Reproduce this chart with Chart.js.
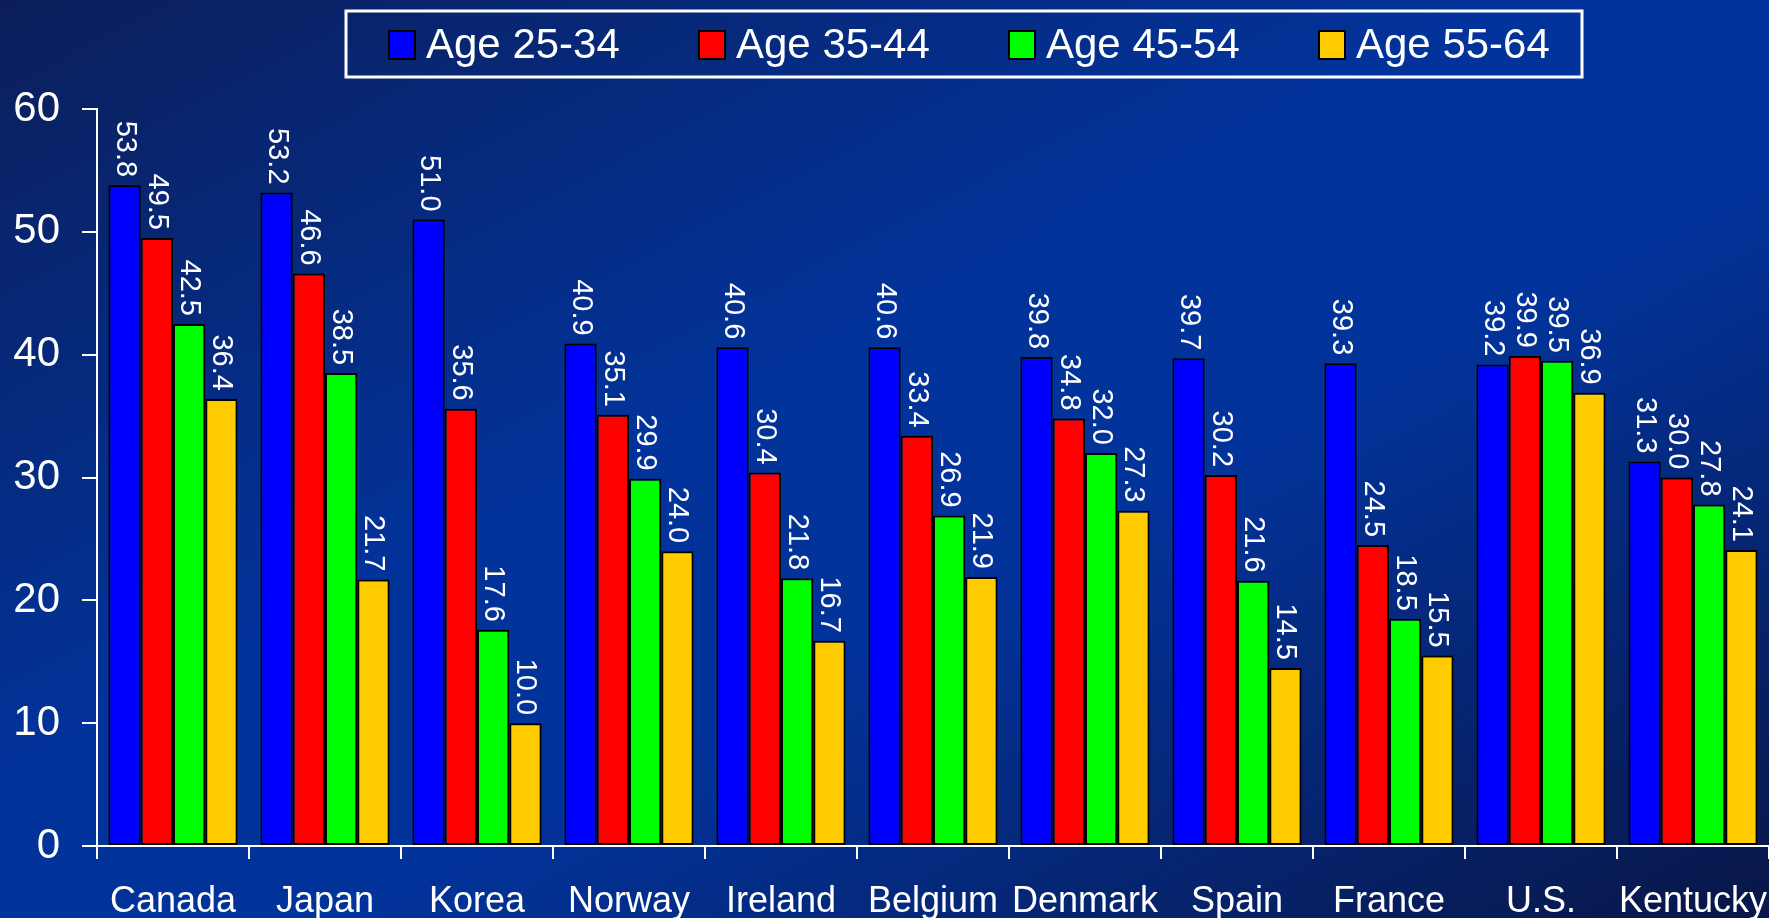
<!DOCTYPE html>
<html>
<head>
<meta charset="utf-8">
<title>Age groups by country</title>
<script src="https://cdn.jsdelivr.net/npm/chart.js@4/dist/chart.umd.min.js"></script>
<style>
  html, body { margin: 0; padding: 0; overflow: hidden; background: #003399; }
  canvas { display: block; }
</style>
</head>
<body>
<canvas id="chart" width="1769" height="918"></canvas>
<script>
'use strict';

/* ── 데이터 ─────────────────────────────── */
const countries = ['Canada', 'Japan', 'Korea', 'Norway', 'Ireland', 'Belgium',
                   'Denmark', 'Spain', 'France', 'U.S.', 'Kentucky'];
const seriesNames = ['Age 25-34', 'Age 35-44', 'Age 45-54', 'Age 55-64'];
const age2534 = [53.8, 53.2, 51.0, 40.9, 40.6, 40.6, 39.8, 39.7, 39.3, 39.2, 31.3];
const age3544 = [49.5, 46.6, 35.6, 35.1, 30.4, 33.4, 34.8, 30.2, 24.5, 39.9, 30.0];
const age4554 = [42.5, 38.5, 17.6, 29.9, 21.8, 26.9, 32.0, 21.6, 18.5, 39.5, 27.8];
const age5564 = [36.4, 21.7, 10.0, 24.0, 16.7, 21.9, 27.3, 14.5, 15.5, 36.9, 24.1];
const yTicks  = [0, 10, 20, 30, 40, 50, 60];

const colors = ['#0000ff', '#ff0000', '#00ff00', '#ffcc00'];
const FONT = '"Liberation Sans", Arial, Helvetica, sans-serif';

/* ── 배경 그라데이션 ───────────────────────── */
const bgPlugin = {
  id: 'bg',
  beforeDraw(chart) {
    const { ctx, width: W, height: H } = chart;
    // 방향 (H, W): 우상단·좌하단이 같은 밝기가 되도록
    const k = (W * H) / (W * W + H * H);
    const cx = W / 2, cy = H / 2;
    const g = ctx.createLinearGradient(cx - k * H, cy - k * W, cx + k * H, cy + k * W);
    g.addColorStop(0, '#0b1e5a');
    g.addColorStop(0.42, '#02339a');
    g.addColorStop(0.6, '#02339a');
    g.addColorStop(1, '#091647');
    ctx.save();
    ctx.fillStyle = g;
    ctx.fillRect(0, 0, W, H);
    ctx.restore();
  },
};

/* ── 세로 값 라벨 ──────────────────────────── */
const valueLabels = {
  id: 'valueLabels',
  afterDatasetsDraw(chart) {
    const { ctx } = chart;
    ctx.save();
    ctx.fillStyle = '#ffffff';
    ctx.font = `29px ${FONT}`;
    ctx.textAlign = 'right';
    ctx.textBaseline = 'middle';
    chart.data.datasets.forEach((ds, i) => {
      chart.getDatasetMeta(i).data.forEach((bar, j) => {
        ctx.save();
        ctx.translate(bar.x, bar.y - 8);
        ctx.rotate(Math.PI / 2);
        ctx.fillText(ds.data[j].toFixed(1), 0, 0);
        ctx.restore();
      });
    });
    ctx.restore();
  },
};

/* ── 범례 (테두리 박스) ───────────────────── */
const boxLegend = {
  id: 'boxLegend',
  afterDraw(chart) {
    const { ctx } = chart;
    const left = 346, top = 11, w = 1236, h = 66;
    ctx.save();
    ctx.strokeStyle = '#ffffff';
    ctx.lineWidth = 3;
    ctx.strokeRect(left, top, w, h);
    ctx.font = `42px ${FONT}`;
    ctx.textBaseline = 'middle';
    ctx.textAlign = 'left';
    chart.data.datasets.forEach((ds, i) => {
      const x = left + 43 + i * 310;
      const cy = top + h / 2 + 1;
      ctx.fillStyle = ds.backgroundColor;
      ctx.fillRect(x, cy - 14, 26, 28);
      ctx.lineWidth = 2;
      ctx.strokeStyle = '#000000';
      ctx.strokeRect(x, cy - 14, 26, 28);
      ctx.fillStyle = '#ffffff';
      ctx.fillText(ds.label, x + 37, cy + 1);
    });
    ctx.restore();
  },
};

const seriesData = [age2534, age3544, age4554, age5564];

new Chart(document.getElementById('chart').getContext('2d'), {
  type: 'bar',
  data: {
    labels: countries,
    datasets: seriesNames.map((name, i) => ({
      label: name,
      data: seriesData[i],
      backgroundColor: colors[i],
      borderColor: '#000000',
      borderWidth: 2,
      borderSkipped: false,
      categoryPercentage: 0.85,
      barPercentage: 1.0,
    })),
  },
  options: {
    responsive: false,
    animation: false,
    devicePixelRatio: 1,
    layout: { padding: { top: 109, left: 0, right: 0, bottom: 0 } },
    plugins: {
      legend: { display: false },
      tooltip: { enabled: false },
    },
    scales: {
      x: {
        afterFit(scale) {
          scale.height = 72;
          scale.paddingLeft = 0;
          scale.paddingRight = 0;
        },
        grid: {
          display: true,
          offset: true,
          drawOnChartArea: false,
          drawTicks: true,
          tickLength: 13,
          color: '#ffffff',
          lineWidth: 2,
        },
        border: { display: true, color: '#ffffff', width: 2 },
        ticks: {
          color: '#ffffff',
          font: { family: FONT, size: 36 },
          padding: 21,
          maxRotation: 0,
          autoSkip: false,
        },
      },
      y: {
        min: 0,
        max: 60,
        afterBuildTicks(scale) { scale.ticks = yTicks.map(v => ({ value: v })); },
        afterFit(scale) { scale.width = 97; },
        grid: {
          display: true,
          drawOnChartArea: false,
          drawTicks: true,
          tickLength: 15,
          color: '#ffffff',
          lineWidth: 2,
        },
        border: { display: true, color: '#ffffff', width: 2 },
        ticks: {
          color: '#ffffff',
          font: { family: FONT, size: 42 },
          padding: 22,
        },
      },
    },
  },
  plugins: [bgPlugin, valueLabels, boxLegend],
});
</script>
</body>
</html>
